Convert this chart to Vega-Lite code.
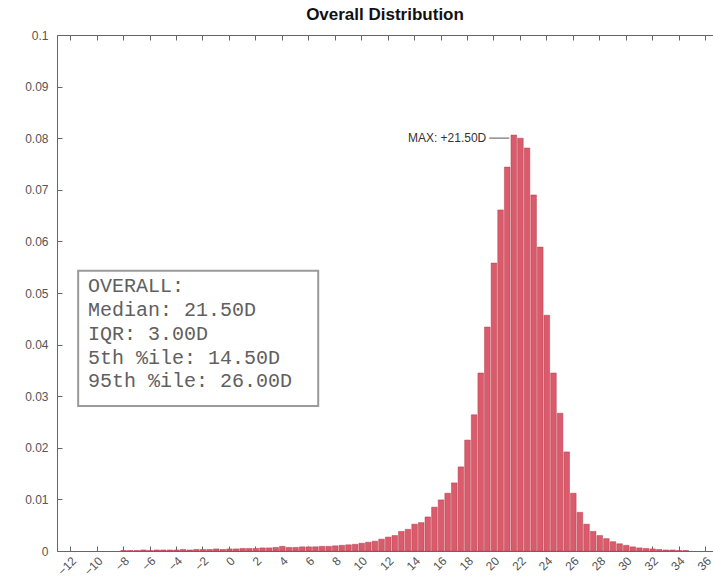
{
  "$schema": "https://vega.github.io/schema/vega-lite/v6.json",
  "autosize": {"type": "none"},
  "padding": {"left": 57, "top": 35, "right": 0, "bottom": 32},
  "width": 656,
  "height": 516,
  "background": "white",
  "config": {"view": {"stroke": null}, "font": "Liberation Sans"},
  "title": {
    "text": "Overall Distribution",
    "font": "Liberation Sans",
    "fontSize": 17,
    "fontWeight": "bold",
    "color": "#111111",
    "anchor": "middle",
    "offset": 5
  },
  "datasets": {
    "hist": [
      {"from": -8.25, "share": 0.0001}, {"from": -7.75, "share": 0.0001}, {"from": -7.25, "share": 0.0001},
      {"from": -6.75, "share": 0.0002}, {"from": -6.25, "share": 0.0001}, {"from": -5.75, "share": 0.0002},
      {"from": -5.25, "share": 0.0002}, {"from": -4.75, "share": 0.0002}, {"from": -4.25, "share": 0.0002},
      {"from": -3.75, "share": 0.0003}, {"from": -3.25, "share": 0.0002}, {"from": -2.75, "share": 0.0003},
      {"from": -2.25, "share": 0.0003}, {"from": -1.75, "share": 0.0003}, {"from": -1.25, "share": 0.0004},
      {"from": -0.75, "share": 0.0003}, {"from": -0.25, "share": 0.0004}, {"from": 0.25, "share": 0.0004},
      {"from": 0.75, "share": 0.0005}, {"from": 1.25, "share": 0.0005}, {"from": 1.75, "share": 0.0005},
      {"from": 2.25, "share": 0.0006}, {"from": 2.75, "share": 0.0006}, {"from": 3.25, "share": 0.0007},
      {"from": 3.75, "share": 0.0009}, {"from": 4.25, "share": 0.0007}, {"from": 4.75, "share": 0.0007},
      {"from": 5.25, "share": 0.0008}, {"from": 5.75, "share": 0.0008}, {"from": 6.25, "share": 0.0008},
      {"from": 6.75, "share": 0.0009}, {"from": 7.25, "share": 0.0009}, {"from": 7.75, "share": 0.0010},
      {"from": 8.25, "share": 0.0011}, {"from": 8.75, "share": 0.0012}, {"from": 9.25, "share": 0.0013},
      {"from": 9.75, "share": 0.0015}, {"from": 10.25, "share": 0.0017}, {"from": 10.75, "share": 0.0019},
      {"from": 11.25, "share": 0.0023}, {"from": 11.75, "share": 0.0027}, {"from": 12.25, "share": 0.0030},
      {"from": 12.75, "share": 0.0038}, {"from": 13.25, "share": 0.0042}, {"from": 13.75, "share": 0.0052},
      {"from": 14.25, "share": 0.0055}, {"from": 14.75, "share": 0.0066}, {"from": 15.25, "share": 0.0085},
      {"from": 15.75, "share": 0.0099}, {"from": 16.25, "share": 0.0112}, {"from": 16.75, "share": 0.0132},
      {"from": 17.25, "share": 0.0163}, {"from": 17.75, "share": 0.0215}, {"from": 18.25, "share": 0.0264},
      {"from": 18.75, "share": 0.0345}, {"from": 19.25, "share": 0.0434}, {"from": 19.75, "share": 0.0558},
      {"from": 20.25, "share": 0.0661}, {"from": 20.75, "share": 0.0744}, {"from": 21.25, "share": 0.0806},
      {"from": 21.75, "share": 0.0800}, {"from": 22.25, "share": 0.0781}, {"from": 22.75, "share": 0.0690},
      {"from": 23.25, "share": 0.0589}, {"from": 23.75, "share": 0.0457}, {"from": 24.25, "share": 0.0345},
      {"from": 24.75, "share": 0.0267}, {"from": 25.25, "share": 0.0192}, {"from": 25.75, "share": 0.0112},
      {"from": 26.25, "share": 0.0075}, {"from": 26.75, "share": 0.0052}, {"from": 27.25, "share": 0.0038},
      {"from": 27.75, "share": 0.0030}, {"from": 28.25, "share": 0.0024}, {"from": 28.75, "share": 0.0018},
      {"from": 29.25, "share": 0.0014}, {"from": 29.75, "share": 0.0011}, {"from": 30.25, "share": 0.0008},
      {"from": 30.75, "share": 0.0006}, {"from": 31.25, "share": 0.0005}, {"from": 31.75, "share": 0.0004},
      {"from": 32.25, "share": 0.0003}, {"from": 32.75, "share": 0.0002}, {"from": 33.25, "share": 0.0002},
      {"from": 33.75, "share": 0.0001}, {"from": 34.25, "share": 0.0001}
    ],
    "peak": [{"mode": 21.5, "share": 0.0806}]
  },
  "layer": [
    {
      "data": {"name": "hist"},
      "mark": {"type": "bar", "fill": "#DB5A6B", "stroke": "#B3404F", "strokeWidth": 0.5},
      "encoding": {
        "x": {
          "field": "from",
          "type": "quantitative",
          "bin": {"binned": true, "step": 0.5},
          "scale": {"domain": [-13, 36.6], "nice": false, "zero": false},
          "axis": {
            "orient": "bottom",
            "title": null,
            "grid": false,
            "values": [-12, -10, -8, -6, -4, -2, 0, 2, 4, 6, 8, 10, 12, 14, 16, 18, 20, 22, 24, 26, 28, 30, 32, 34, 36],
            "format": "d",
            "labelAngle": -45,
            "labelAlign": "right",
            "labelBaseline": "top",
            "labelFontSize": 12,
            "labelColor": "#555555",
            "labelPadding": 9,
            "labelFlush": false,
            "labelOverlap": false,
            "tickSize": -5,
            "tickColor": "#666666",
            "domainColor": "#666666"
          }
        },
        "y": {
          "field": "share",
          "type": "quantitative",
          "scale": {"domain": [0, 0.1], "nice": false},
          "axis": {
            "orient": "left",
            "title": null,
            "grid": false,
            "values": [0, 0.01, 0.02, 0.03, 0.04, 0.05, 0.06, 0.07, 0.08, 0.09, 0.1],
            "format": "~g",
            "labelFontSize": 12,
            "labelColor": "#555555",
            "labelPadding": 14,
            "labelFlush": false,
            "labelOverlap": false,
            "tickSize": -5,
            "tickColor": "#666666",
            "domainColor": "#666666"
          }
        }
      }
    },
    {
      "data": {"name": "peak"},
      "mark": {"type": "rule", "stroke": "#555555", "strokeWidth": 1, "xOffset": -24, "x2Offset": -4, "yOffset": 3},
      "encoding": {
        "x": {
          "field": "mode",
          "type": "quantitative",
          "axis": {
            "orient": "top",
            "title": null,
            "grid": false,
            "labels": false,
            "values": [-12, -10, -8, -6, -4, -2, 0, 2, 4, 6, 8, 10, 12, 14, 16, 18, 20, 22, 24, 26, 28, 30, 32, 34, 36],
            "tickSize": -5,
            "tickColor": "#666666",
            "domainColor": "#666666"
          }
        },
        "x2": {"field": "mode"},
        "y": {"field": "share", "type": "quantitative", "axis": null}
      }
    },
    {
      "data": {"name": "peak"},
      "transform": [
        {"calculate": "'MAX: +' + format(datum.mode, '.2f') + 'D'", "as": "note"}
      ],
      "mark": {"type": "text", "align": "right", "baseline": "middle", "xOffset": -27, "yOffset": 3, "fontSize": 12, "font": "Liberation Sans", "color": "#333333"},
      "encoding": {
        "x": {"field": "mode", "type": "quantitative", "axis": null},
        "y": {"field": "share", "type": "quantitative", "axis": null},
        "text": {"field": "note"}
      }
    },
    {
      "data": {"values": [{}]},
      "mark": {"type": "rect", "fill": "white", "stroke": "#9A9A9A", "strokeWidth": 2},
      "encoding": {
        "x": {"datum": -11.4, "type": "quantitative", "axis": null},
        "x2": {"datum": 6.75},
        "y": {"datum": 0.0543, "type": "quantitative", "axis": null},
        "y2": {"datum": 0.0281}
      }
    },
    {
      "data": {"values": [{}]},
      "mark": {
        "type": "text",
        "text": ["OVERALL:", "Median: 21.50D", "IQR: 3.00D", "5th %ile: 14.50D", "95th %ile: 26.00D"],
        "font": "Liberation Mono",
        "fontSize": 20,
        "lineHeight": 23.7,
        "align": "left",
        "baseline": "top",
        "color": "#606060"
      },
      "encoding": {
        "x": {"datum": -10.66, "type": "quantitative", "axis": null},
        "y": {"datum": 0.0532, "type": "quantitative", "axis": null}
      }
    }
  ],
  "resolve": {"axis": {"x": "independent", "y": "independent"}}
}
